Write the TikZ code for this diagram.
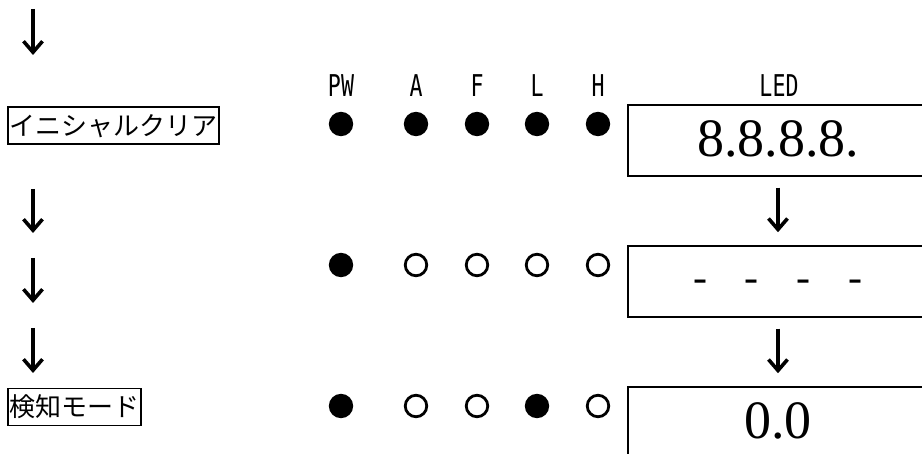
\documentclass[tikz,border=0pt]{standalone}
\usepackage{fontspec}
\setmainfont{Liberation Serif}
\newfontfamily\jpfont{Noto Sans CJK JP}
\newfontfamily\lblfont{DejaVu Sans Mono}[FakeStretch=0.72]
\usetikzlibrary{arrows.meta}

\begin{document}
\begin{tikzpicture}[x=1pt, y=-1pt,
  modebox/.style={draw, line width=1.5pt, font=\jpfont\fontsize{26}{26}\selectfont, inner xsep=1.5pt, inner ysep=5.5pt, text height=22.9pt, text depth=3.1pt, anchor=west},
  lbl/.style={font=\lblfont\fontsize{30}{30}\selectfont, inner sep=0pt, anchor=base},
  lamp/.style={circle, draw=black, line width=2.8pt, minimum size=21.5pt, inner sep=0pt, outer sep=0pt},
  ledbox/.style={draw, line width=1.5pt, minimum width=300pt, minimum height=71pt, inner sep=0pt, font=\rmfamily\fontsize{54}{54}\selectfont, text height=36pt, text depth=3pt},
  flow/.style={line width=3.6pt, -{Straight Barb[length=11pt,width=19pt]}}]
\useasboundingbox (0,0) rectangle (922,454);
% mode names on the left
\node[modebox] (init) at (7,125.5) {イニシャルクリア};
\node[modebox] (detect) at (7,407) {検知モード};
% left column arrows
\coordinate (a0s) at (33,9);   \coordinate (a0e) at (33,55);
\coordinate (a1s) at (33,189); \coordinate (a1e) at (33,233);
\coordinate (a2s) at (33,258); \coordinate (a2e) at (33,303);
\coordinate (a3s) at (33,328); \coordinate (a3e) at (33,373);
\draw[flow] (a0s) -- (a0e);
\draw[flow] (a1s) -- (a1e);
\draw[flow] (a2s) -- (a2e);
\draw[flow] (a3s) -- (a3e);
% lamp labels
\foreach \x/\name in {341/PW,416/A,477/F,537/L,598/H}
  \node[lbl] (lbl\name) at (\x,97) {\name};
\node[lbl] (lblLED) at (779,97) {LED};
% lamps, one row per state
\foreach \x/\c [count=\i] in {341/black,416/black,477/black,537/black,598/black}
  \node[lamp, fill=\c] (first\i) at (\x,124) {};
\foreach \x/\c [count=\i] in {341/black,416/white,477/white,537/white,598/white}
  \node[lamp, fill=\c] (second\i) at (\x,265) {};
\foreach \x/\c [count=\i] in {341/black,416/white,477/white,537/black,598/white}
  \node[lamp, fill=\c] (third\i) at (\x,406) {};
% LED display
\node[ledbox] (led1) at (778,140.5) {8.8.8.8.};
\node[ledbox] (led2) at (778,281.5) {\fontsize{42}{42}\selectfont\raisebox{6pt}{-\hspace{38pt}-\hspace{38pt}-\hspace{38pt}-}};
\node[ledbox] (led3) at (778,422.5) {0.0};
\draw[flow] ([yshift=-11pt]led1.south) -- ([yshift=13pt]led2.north);
\draw[flow] ([yshift=-11pt]led2.south) -- ([yshift=13pt]led3.north);
\end{tikzpicture}
\end{document}
